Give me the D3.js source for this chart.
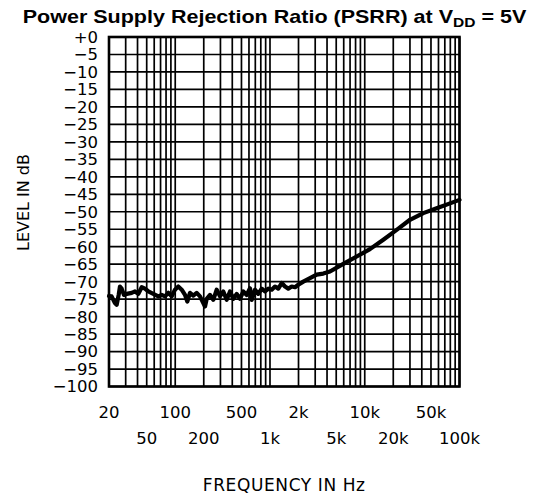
<!DOCTYPE html>
<html>
<head>
<meta charset="utf-8">
<script src="https://cdn.jsdelivr.net/npm/d3@7"></script>
<style>
  html, body { margin: 0; padding: 0; background: #fff; }
  svg { display: block; }
</style>
</head>
<body>
<svg id="chart" width="537" height="493"></svg>
<script>
// ---- data ----
const freqHz = [20, 21.3, 23.1, 24.1, 25.3, 26.1, 27.2, 28.8, 30.8, 34.7, 37.6, 40.8, 44.3, 48, 52, 58.7, 66.3, 72, 78, 84.5, 91.8,
  99.4, 107.7, 117, 126.8, 134.1, 143.1, 155.1, 168.5, 182.5, 197.8, 206.2, 214.9, 232.8, 252.2, 273.9, 296.8, 321.6, 349.2,
  378.4, 410.1, 445.4, 482.6, 523, 567.9, 615.4, 641.4, 695, 753.2, 817.8, 886, 960, 1043, 1129, 1224, 1329, 1440, 1560,
  1695, 1837, 1989, 2246, 2643, 3111, 3653, 4295, 5944, 8220, 11350, 15700, 21720, 30000, 41500, 57400, 79400, 100000];
const levelDb = [-74.1, -74.2, -76.1, -76.6, -73.8, -71.4, -72.0, -73.8, -73.5, -73.2, -72.8, -73.5, -71.6, -72.0, -72.8, -73.5, -74.2, -73.8, -74.2, -73.2, -74.2,
  -72.3, -71.4, -72.3, -73.8, -75.7, -73.2, -74.0, -73.2, -74.2, -76.1, -77.1, -74.9, -73.8, -75.2, -72.3, -74.2, -72.8, -75.2,
  -72.8, -74.9, -73.5, -74.9, -72.8, -73.8, -71.9, -75.2, -72.3, -73.5, -72.0, -72.8, -72.0, -72.3, -71.4, -72.0, -70.4, -71.4, -72.0,
  -71.4, -71.6, -70.9, -70.0, -69.0, -68.0, -67.7, -67.1, -64.9, -62.8, -60.7, -58.0, -55.2, -52.3, -50.4, -49.0, -47.6, -46.6];

const xTickValues = [20, 50, 100, 200, 500, 1000, 2000, 5000, 10000, 20000, 50000, 100000];
const xTickLabels = ["20", "50", "100", "200", "500", "1k", "2k", "5k", "10k", "20k", "50k", "100k"];
const xTickRow    = [0, 1, 0, 1, 0, 1, 0, 1, 0, 1, 0, 1];
const xGridValues = [20, 30, 40, 50, 60, 70, 80, 90, 100, 200, 300, 400, 500, 600, 700, 800, 900,
  1000, 2000, 3000, 4000, 5000, 6000, 7000, 8000, 9000, 10000, 20000, 30000, 40000, 50000, 60000, 70000, 80000, 90000, 100000];
const yTickValues = [0, -5, -10, -15, -20, -25, -30, -35, -40, -45, -50, -55, -60, -65, -70, -75, -80, -85, -90, -95, -100];
const yTickLabels = ["+0", "\u22125", "\u221210", "\u221215", "\u221220", "\u221225", "\u221230", "\u221235", "\u221240", "\u221245",
  "\u221250", "\u221255", "\u221260", "\u221265", "\u221270", "\u221275", "\u221280", "\u221285", "\u221290", "\u221295", "\u2212100"];

const titleMain = "Power Supply Rejection Ratio (PSRR) at V";
const titleSub = "DD";
const titleEnd = " = 5V";
const xTitle = "FREQUENCY IN Hz";
const yTitle = "LEVEL IN dB";

// ---- layout ----
const plot = { left: 109, right: 459.5, top: 37, bottom: 386.5 };
const svg = d3.select("#chart");
const labelFont = "'DejaVu Sans', sans-serif";

const x = d3.scaleLog().domain([20, 100000]).range([plot.left, plot.right]);
const y = d3.scaleLinear().domain([-100, 0]).range([plot.bottom, plot.top]);

// grid
const grid = svg.append("g");
grid.selectAll("line.v").data(xGridValues).enter().append("line")
  .attr("x1", d => x(d)).attr("x2", d => x(d))
  .attr("y1", plot.top).attr("y2", plot.bottom)
  .attr("stroke", "#000").attr("stroke-width", 1.7);
grid.selectAll("line.h").data(yTickValues).enter().append("line")
  .attr("x1", plot.left).attr("x2", plot.right)
  .attr("y1", d => y(d)).attr("y2", d => y(d))
  .attr("stroke", "#000").attr("stroke-width", 1.7);

// border
svg.append("rect")
  .attr("x", plot.left).attr("y", plot.top)
  .attr("width", plot.right - plot.left).attr("height", plot.bottom - plot.top)
  .attr("fill", "none").attr("stroke", "#000").attr("stroke-width", 2.6);

// curve
const pts = freqHz.map((f, i) => [f, levelDb[i]]);
svg.append("path")
  .datum(pts)
  .attr("fill", "none").attr("stroke", "#000").attr("stroke-width", 4.2)
  .attr("stroke-linejoin", "round").attr("stroke-linecap", "round")
  .attr("d", d3.line().x(d => x(d[0])).y(d => y(d[1])));

// y tick labels
svg.append("g").selectAll("text").data(yTickValues).enter().append("text")
  .attr("x", 98).attr("y", d => y(d)).attr("dy", "0.36em")
  .attr("text-anchor", "end")
  .attr("font-family", labelFont).attr("font-size", 16.5)
  .text((d, i) => yTickLabels[i]);

// x tick labels
svg.append("g").selectAll("text").data(xTickValues).enter().append("text")
  .attr("x", d => x(d)).attr("y", (d, i) => xTickRow[i] ? 444 : 418)
  .attr("text-anchor", "middle")
  .attr("font-family", labelFont).attr("font-size", 16.5)
  .text((d, i) => xTickLabels[i]);

// axis titles
svg.append("text")
  .attr("x", (plot.left + plot.right) / 2).attr("y", 490.5)
  .attr("text-anchor", "middle")
  .attr("font-family", labelFont).attr("font-size", 17)
  .attr("letter-spacing", 0.6)
  .text(xTitle);
svg.append("text")
  .attr("transform", "translate(23.3,202.5) rotate(-90)")
  .attr("text-anchor", "middle").attr("dy", "0.36em")
  .attr("font-family", labelFont).attr("font-size", 16)
  .text(yTitle);

// title
const title = svg.append("text")
  .attr("font-family", "'Liberation Sans', Arial, sans-serif")
  .attr("font-weight", "bold").attr("font-size", 18)
  .attr("x", 0).attr("y", 0);
title.append("tspan").text(titleMain);
title.append("tspan").attr("font-size", 13).attr("dy", 4).text(titleSub);
title.append("tspan").attr("dy", -4).text(titleEnd);
const tw = title.node().getComputedTextLength();
const targetW = 504;
title.attr("transform", `translate(22.7,22.7) scale(${targetW / tw},1)`);
</script>
</body>
</html>
